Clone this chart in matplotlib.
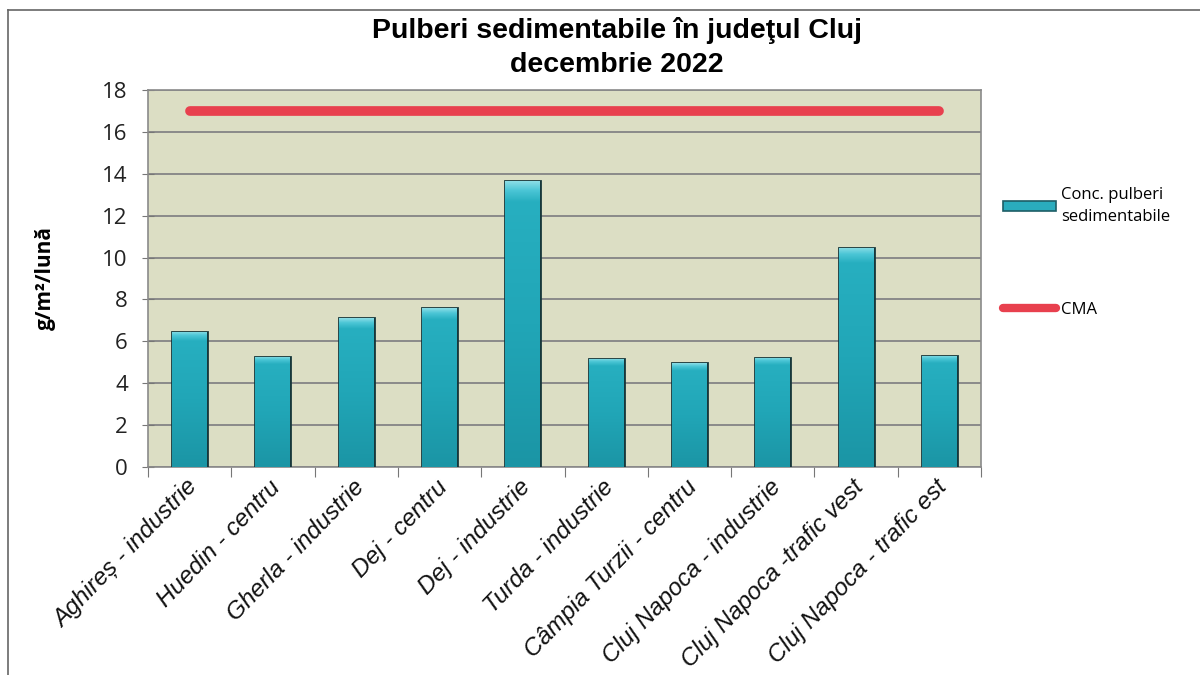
import matplotlib
matplotlib.use("Agg")
import matplotlib.pyplot as plt
import numpy as np
from matplotlib.patches import Patch
from matplotlib.lines import Line2D
from matplotlib.colors import LinearSegmentedColormap

# ---- data ----
categories = ["Aghireș - industrie", "Huedin - centru", "Gherla - industrie",
              "Dej - centru", "Dej - industrie", "Turda - industrie",
              "Câmpia Turzii - centru", "Cluj Napoca - industrie",
              "Cluj Napoca -trafic vest", "Cluj Napoca - trafic est"]
conc_values = [6.45, 5.27, 7.10, 7.58, 13.65, 5.16, 4.95, 5.22, 10.46, 5.32]
cma_values = [17, 17, 17, 17, 17, 17, 17, 17, 17, 17]
y_ticks = [0, 2, 4, 6, 8, 10, 12, 14, 16, 18]

title = "Pulberi sedimentabile în judeţul Cluj\ndecembrie 2022"
y_label = "g/m²/lună"
legend_bar = "Conc. pulberi\nsedimentabile"
legend_line = "CMA"

# ---- figure ----
fig = plt.figure(figsize=(12, 6.75), dpi=100)
ax = fig.add_axes([148/1200, 1-467/675, (981-148)/1200, (467-90)/675])
ax.set_facecolor("#dcdec4")

x = np.arange(len(categories))
bars = ax.bar(x, conc_values, width=0.42, color="#22a9bb",
              edgecolor="#17373b", linewidth=2.0, zorder=3)

cmap = LinearSegmentedColormap.from_list(
    "teal", [(0.0, "#1b95a5"), (0.5, "#21a6b7"), (0.93, "#27afc0"),
             (0.97, "#4cc6d6"), (1.0, "#8adde6")])
grad = np.linspace(0, 1, 256).reshape(-1, 1)
for r in bars:
    x0, y0 = r.get_x(), r.get_y()
    w, h = r.get_width(), r.get_height()
    im = ax.imshow(grad, cmap=cmap, origin="lower", aspect="auto",
                   extent=[x0, x0 + w, y0, y0 + h], zorder=3)
    im.set_clip_path(r)

ax.plot(x, cma_values, color="#e8404e", lw=7, solid_capstyle="round", zorder=4)

ax.set_xlim(-0.5, len(categories) - 0.5)
ax.set_ylim(0, 18)
ax.set_yticks(y_ticks)
ax.set_yticklabels([str(v) for v in y_ticks], fontsize=16,
                   fontfamily="Open Sans", color="#222222")
ax.yaxis.grid(True, color="#8a8a8a", lw=1.4, zorder=1)
ax.set_axisbelow(True)

# category boundary ticks and centered labels
ax.set_xticks(np.arange(-0.5, len(categories), 1.0))
ax.set_xticklabels([])
ax.set_xticks(x + 0.05, minor=True)
ax.set_xticklabels(categories, minor=True, rotation=46, ha="right",
                   va="center", rotation_mode="anchor", fontsize=17.5,
                   fontstyle="italic", fontfamily="Liberation Sans",
                   color="#111111")
ax.tick_params(axis="x", which="minor", length=0, pad=12)
ax.tick_params(axis="x", which="major", direction="out", length=7,
               color="#777777")
ax.tick_params(axis="y", direction="inout", length=9, color="#777777", pad=10)

for s in ax.spines.values():
    s.set_color("#8a8a8a")
    s.set_linewidth(1.2)

ax.set_ylabel(y_label, fontsize=15, fontweight="bold",
              fontfamily="Open Sans")
ax.yaxis.set_label_coords(-0.11, 0.5)

fig.text(617/1200, 1-47/675, title, ha="center", va="center",
         fontsize=20.5, fontweight="bold", fontfamily="Liberation Sans",
         linespacing=1.4)

handles = [Patch(facecolor="#2aacbd", edgecolor="#1d5d66", linewidth=1.2),
           Line2D([0], [0], color="#e8404e", lw=6, solid_capstyle="round")]
leg = fig.legend(handles, [legend_bar, legend_line], loc="upper left",
                 bbox_to_anchor=(988/1200, 1-172/675), frameon=False,
                 prop={"family": "Open Sans", "size": 12},
                 handlelength=3.2, handleheight=0.6, handletextpad=0.3,
                 labelspacing=4.6)
for t in leg.get_texts():
    t.set_linespacing(1.5)

# scanned page border lines
fig.add_artist(Line2D([8/1200, 1], [1-10/675, 1-10/675], color="#666666", lw=1.2))
fig.add_artist(Line2D([8/1200, 8/1200], [0, 1-10/675], color="#666666", lw=1.2))

fig.savefig("out.png", dpi=100, facecolor="white")
